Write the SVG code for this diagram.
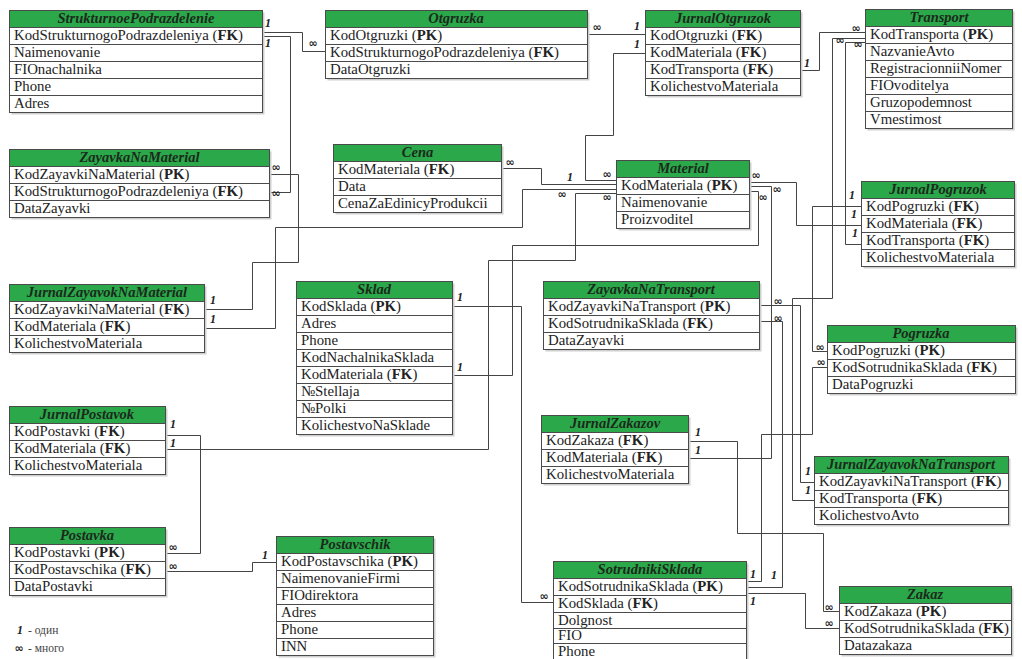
<svg xmlns="http://www.w3.org/2000/svg" width="1022" height="659" viewBox="0 0 1022 659">
<style>
.bg{fill:#fff}
.sh{fill:#cfcfcf}
.hd{fill:#2aa84a;stroke:#4a4a4a;stroke-width:1}
.rw{fill:#fff;stroke:#4a4a4a;stroke-width:1}
.tt{font-family:"Liberation Serif",serif;font-size:14.5px;font-style:italic;font-weight:bold;fill:#1c2a1c;text-anchor:middle}
.f{font-family:"Liberation Serif",serif;font-size:14.8px;fill:#222}
.b{font-weight:bold}
.cn{fill:none;stroke:#444;stroke-width:1}
.one{font-family:"Liberation Serif",serif;font-size:12px;font-style:italic;font-weight:bold;fill:#222;text-anchor:middle}
.many{font-family:"DejaVu Sans",sans-serif;font-size:11px;font-weight:bold;fill:#222;text-anchor:middle}
.lg{font-family:"Liberation Serif",serif;font-size:11.5px;fill:#444}
</style>
<rect class="bg" x="0" y="0" width="1022" height="659"/>

<g id="connectors">
<polyline class="cn" points="262.5,32.5 302.5,32.5 302.5,51.5 325.5,51.5"/>
<polyline class="cn" points="262.5,36.5 290.5,36.5 290.5,192.5 269.5,192.5"/>
<polyline class="cn" points="587.5,34.5 645.5,34.5"/>
<polyline class="cn" points="645.5,53.5 613.5,53.5 613.5,135.5 585.5,135.5 585.5,180.5 616.5,180.5"/>
<polyline class="cn" points="800.5,70.5 819.5,70.5 819.5,32.5 865.5,32.5"/>
<polyline class="cn" points="865.5,42.5 845.5,42.5 845.5,244.5 861.5,244.5"/>
<polyline class="cn" points="865.5,38.5 832.5,38.5 832.5,298.5 792.5,298.5 792.5,500.5 814.5,500.5"/>
<polyline class="cn" points="501.5,168.5 541.5,168.5 541.5,184.5 616.5,184.5"/>
<polyline class="cn" points="204.5,328.5 275.5,328.5 275.5,227.5 522.5,227.5 522.5,189.5 616.5,189.5"/>
<polyline class="cn" points="269.5,174.5 298.5,174.5 298.5,262.5 252.5,262.5 252.5,309.5 204.5,309.5"/>
<polyline class="cn" points="165.5,449.5 488.5,449.5 488.5,260.5 575.5,260.5 575.5,193.5 616.5,193.5"/>
<polyline class="cn" points="452.5,375.5 512.5,375.5 512.5,245.5 758.5,245.5 758.5,191.5 749.5,191.5"/>
<polyline class="cn" points="749.5,182.5 796.5,182.5 796.5,225.5 861.5,225.5"/>
<polyline class="cn" points="688.5,458.5 771.5,458.5 771.5,186.5 749.5,186.5"/>
<polyline class="cn" points="861.5,206.5 812.5,206.5 812.5,351.5 827.5,351.5"/>
<polyline class="cn" points="746.5,581.5 761.5,581.5 761.5,434.5 812.5,434.5 812.5,367.5 827.5,367.5"/>
<polyline class="cn" points="746.5,587.5 782.5,587.5 782.5,321.5 759.5,321.5"/>
<polyline class="cn" points="759.5,305.5 800.5,305.5 800.5,482.5 814.5,482.5"/>
<polyline class="cn" points="746.5,593.5 805.5,593.5 805.5,628.5 839.5,628.5"/>
<polyline class="cn" points="688.5,441.5 737.5,441.5 737.5,533.5 823.5,533.5 823.5,611.5 839.5,611.5"/>
<polyline class="cn" points="452.5,306.5 521.5,306.5 521.5,602.5 553.5,602.5"/>
<polyline class="cn" points="165.5,435.5 200.5,435.5 200.5,553.5 165.5,553.5"/>
<polyline class="cn" points="165.5,571.5 252.5,571.5 252.5,562.5 276.5,562.5"/>
</g>

<g id="cardinalities">
<text class="one" x="268" y="27">1</text>
<text class="one" x="268" y="47">1</text>
<text class="many" x="313" y="47">∞</text>
<text class="many" x="276" y="171">∞</text>
<text class="many" x="276" y="197">∞</text>
<text class="many" x="597" y="31">∞</text>
<text class="one" x="637" y="30">1</text>
<text class="one" x="637" y="48">1</text>
<text class="one" x="807" y="67">1</text>
<text class="many" x="856" y="32">∞</text>
<text class="many" x="840" y="44">∞</text>
<text class="many" x="858" y="48">∞</text>
<text class="many" x="510" y="166">∞</text>
<text class="one" x="570" y="181">1</text>
<text class="many" x="607" y="178">∞</text>
<text class="many" x="562" y="198">∞</text>
<text class="many" x="607" y="201">∞</text>
<text class="many" x="756" y="179">∞</text>
<text class="many" x="777" y="193">∞</text>
<text class="many" x="763" y="201">∞</text>
<text class="one" x="852" y="199">1</text>
<text class="one" x="854" y="218">1</text>
<text class="one" x="855" y="237">1</text>
<text class="one" x="213" y="304">1</text>
<text class="one" x="213" y="323">1</text>
<text class="one" x="460" y="301">1</text>
<text class="one" x="460" y="371">1</text>
<text class="many" x="778" y="305">∞</text>
<text class="many" x="778" y="322">∞</text>
<text class="many" x="820" y="351">∞</text>
<text class="many" x="821" y="366">∞</text>
<text class="one" x="173" y="428">1</text>
<text class="one" x="173" y="447">1</text>
<text class="many" x="173" y="551">∞</text>
<text class="many" x="173" y="570">∞</text>
<text class="one" x="265" y="559">1</text>
<text class="one" x="698" y="436">1</text>
<text class="one" x="698" y="454">1</text>
<text class="one" x="808" y="475">1</text>
<text class="one" x="808" y="494">1</text>
<text class="one" x="753" y="578">1</text>
<text class="one" x="774" y="579">1</text>
<text class="one" x="753" y="605">1</text>
<text class="many" x="544" y="600">∞</text>
<text class="many" x="829" y="611">∞</text>
<text class="many" x="829" y="627">∞</text>
</g>

<g id="StrukturnoePodrazdelenie">
<rect class="sh" x="11.5" y="12.5" width="253" height="102"/>
<rect class="hd" x="9.5" y="10.5" width="253" height="17"/>
<text class="tt" x="136" y="23">StrukturnoePodrazdelenie</text>
<rect class="rw" x="9.5" y="27.5" width="253" height="17"/>
<rect class="rw" x="9.5" y="44.5" width="253" height="17"/>
<rect class="rw" x="9.5" y="61.5" width="253" height="17"/>
<rect class="rw" x="9.5" y="78.5" width="253" height="17"/>
<rect class="rw" x="9.5" y="95.5" width="253" height="17"/>
<text class="f" x="14" y="40">KodStrukturnogoPodrazdeleniya (<tspan class="b">FK</tspan>)</text>
<text class="f" x="14" y="57">Naimenovanie</text>
<text class="f" x="14" y="74">FIOnachalnika</text>
<text class="f" x="14" y="91">Phone</text>
<text class="f" x="14" y="108">Adres</text>
</g>

<g id="Otgruzka">
<rect class="sh" x="327.5" y="12.5" width="262" height="68"/>
<rect class="hd" x="325.5" y="10.5" width="262" height="17"/>
<text class="tt" x="456" y="23">Otgruzka</text>
<rect class="rw" x="325.5" y="27.5" width="262" height="17"/>
<rect class="rw" x="325.5" y="44.5" width="262" height="17"/>
<rect class="rw" x="325.5" y="61.5" width="262" height="17"/>
<text class="f" x="330" y="40">KodOtgruzki (<tspan class="b">PK</tspan>)</text>
<text class="f" x="330" y="57">KodStrukturnogoPodrazdeleniya (<tspan class="b">FK</tspan>)</text>
<text class="f" x="330" y="74">DataOtgruzki</text>
</g>

<g id="JurnalOtgruzok">
<rect class="sh" x="647.5" y="12.5" width="155" height="85"/>
<rect class="hd" x="645.5" y="10.5" width="155" height="17"/>
<text class="tt" x="723" y="23">JurnalOtgruzok</text>
<rect class="rw" x="645.5" y="27.5" width="155" height="17"/>
<rect class="rw" x="645.5" y="44.5" width="155" height="17"/>
<rect class="rw" x="645.5" y="61.5" width="155" height="17"/>
<rect class="rw" x="645.5" y="78.5" width="155" height="17"/>
<text class="f" x="650" y="40">KodOtgruzki (<tspan class="b">FK</tspan>)</text>
<text class="f" x="650" y="57">KodMateriala (<tspan class="b">FK</tspan>)</text>
<text class="f" x="650" y="74">KodTransporta (<tspan class="b">FK</tspan>)</text>
<text class="f" x="650" y="91">KolichestvoMateriala</text>
</g>

<g id="Transport">
<rect class="sh" x="867.5" y="11.5" width="147" height="119"/>
<rect class="hd" x="865.5" y="9.5" width="147" height="17"/>
<text class="tt" x="939" y="22">Transport</text>
<rect class="rw" x="865.5" y="26.5" width="147" height="17"/>
<rect class="rw" x="865.5" y="43.5" width="147" height="17"/>
<rect class="rw" x="865.5" y="60.5" width="147" height="17"/>
<rect class="rw" x="865.5" y="77.5" width="147" height="17"/>
<rect class="rw" x="865.5" y="94.5" width="147" height="17"/>
<rect class="rw" x="865.5" y="111.5" width="147" height="17"/>
<text class="f" x="870" y="39">KodTransporta (<tspan class="b">PK</tspan>)</text>
<text class="f" x="870" y="56">NazvanieAvto</text>
<text class="f" x="870" y="73">RegistracionniiNomer</text>
<text class="f" x="870" y="90">FIOvoditelya</text>
<text class="f" x="870" y="107">Gruzopodemnost</text>
<text class="f" x="870" y="124">Vmestimost</text>
</g>

<g id="ZayavkaNaMaterial">
<rect class="sh" x="11.5" y="151.5" width="260" height="68"/>
<rect class="hd" x="9.5" y="149.5" width="260" height="17"/>
<text class="tt" x="139.5" y="162">ZayavkaNaMaterial</text>
<rect class="rw" x="9.5" y="166.5" width="260" height="17"/>
<rect class="rw" x="9.5" y="183.5" width="260" height="17"/>
<rect class="rw" x="9.5" y="200.5" width="260" height="17"/>
<text class="f" x="14" y="179">KodZayavkiNaMaterial (<tspan class="b">PK</tspan>)</text>
<text class="f" x="14" y="196">KodStrukturnogoPodrazdeleniya (<tspan class="b">FK</tspan>)</text>
<text class="f" x="14" y="213">DataZayavki</text>
</g>

<g id="Cena">
<rect class="sh" x="335.5" y="146.5" width="168" height="68"/>
<rect class="hd" x="333.5" y="144.5" width="168" height="17"/>
<text class="tt" x="417.5" y="157">Cena</text>
<rect class="rw" x="333.5" y="161.5" width="168" height="17"/>
<rect class="rw" x="333.5" y="178.5" width="168" height="17"/>
<rect class="rw" x="333.5" y="195.5" width="168" height="17"/>
<text class="f" x="338" y="174">KodMateriala (<tspan class="b">FK</tspan>)</text>
<text class="f" x="338" y="191">Data</text>
<text class="f" x="338" y="208">CenaZaEdinicyProdukcii</text>
</g>

<g id="Material">
<rect class="sh" x="618.5" y="162.5" width="133" height="68"/>
<rect class="hd" x="616.5" y="160.5" width="133" height="17"/>
<text class="tt" x="683" y="173">Material</text>
<rect class="rw" x="616.5" y="177.5" width="133" height="17"/>
<rect class="rw" x="616.5" y="194.5" width="133" height="17"/>
<rect class="rw" x="616.5" y="211.5" width="133" height="17"/>
<text class="f" x="621" y="190">KodMateriala (<tspan class="b">PK</tspan>)</text>
<text class="f" x="621" y="207">Naimenovanie</text>
<text class="f" x="621" y="224">Proizvoditel</text>
</g>

<g id="JurnalPogruzok">
<rect class="sh" x="863.5" y="183.5" width="153" height="85"/>
<rect class="hd" x="861.5" y="181.5" width="153" height="17"/>
<text class="tt" x="938" y="194">JurnalPogruzok</text>
<rect class="rw" x="861.5" y="198.5" width="153" height="17"/>
<rect class="rw" x="861.5" y="215.5" width="153" height="17"/>
<rect class="rw" x="861.5" y="232.5" width="153" height="17"/>
<rect class="rw" x="861.5" y="249.5" width="153" height="17"/>
<text class="f" x="866" y="211">KodPogruzki (<tspan class="b">FK</tspan>)</text>
<text class="f" x="866" y="228">KodMateriala (<tspan class="b">FK</tspan>)</text>
<text class="f" x="866" y="245">KodTransporta (<tspan class="b">FK</tspan>)</text>
<text class="f" x="866" y="262">KolichestvoMateriala</text>
</g>

<g id="JurnalZayavokNaMaterial">
<rect class="sh" x="11.5" y="286.5" width="195" height="68"/>
<rect class="hd" x="9.5" y="284.5" width="195" height="17"/>
<text class="tt" x="107" y="297">JurnalZayavokNaMaterial</text>
<rect class="rw" x="9.5" y="301.5" width="195" height="17"/>
<rect class="rw" x="9.5" y="318.5" width="195" height="17"/>
<rect class="rw" x="9.5" y="335.5" width="195" height="17"/>
<text class="f" x="14" y="314">KodZayavkiNaMaterial (<tspan class="b">FK</tspan>)</text>
<text class="f" x="14" y="331">KodMateriala (<tspan class="b">FK</tspan>)</text>
<text class="f" x="14" y="348">KolichestvoMateriala</text>
</g>

<g id="Sklad">
<rect class="sh" x="298.5" y="283.5" width="156" height="153"/>
<rect class="hd" x="296.5" y="281.5" width="156" height="17"/>
<text class="tt" x="374" y="294">Sklad</text>
<rect class="rw" x="296.5" y="298.5" width="156" height="17"/>
<rect class="rw" x="296.5" y="315.5" width="156" height="17"/>
<rect class="rw" x="296.5" y="332.5" width="156" height="17"/>
<rect class="rw" x="296.5" y="349.5" width="156" height="17"/>
<rect class="rw" x="296.5" y="366.5" width="156" height="17"/>
<rect class="rw" x="296.5" y="383.5" width="156" height="17"/>
<rect class="rw" x="296.5" y="400.5" width="156" height="17"/>
<rect class="rw" x="296.5" y="417.5" width="156" height="17"/>
<text class="f" x="301" y="311">KodSklada (<tspan class="b">PK</tspan>)</text>
<text class="f" x="301" y="328">Adres</text>
<text class="f" x="301" y="345">Phone</text>
<text class="f" x="301" y="362">KodNachalnikaSklada</text>
<text class="f" x="301" y="379">KodMateriala (<tspan class="b">FK</tspan>)</text>
<text class="f" x="301" y="396">№Stellaja</text>
<text class="f" x="301" y="413">№Polki</text>
<text class="f" x="301" y="430">KolichestvoNaSklade</text>
</g>

<g id="ZayavkaNaTransport">
<rect class="sh" x="545.5" y="283.5" width="216" height="68"/>
<rect class="hd" x="543.5" y="281.5" width="216" height="17"/>
<text class="tt" x="651" y="294">ZayavkaNaTransport</text>
<rect class="rw" x="543.5" y="298.5" width="216" height="17"/>
<rect class="rw" x="543.5" y="315.5" width="216" height="17"/>
<rect class="rw" x="543.5" y="332.5" width="216" height="17"/>
<text class="f" x="548" y="311">KodZayavkiNaTransport (<tspan class="b">PK</tspan>)</text>
<text class="f" x="548" y="328">KodSotrudnikaSklada (<tspan class="b">FK</tspan>)</text>
<text class="f" x="548" y="345">DataZayavki</text>
</g>

<g id="Pogruzka">
<rect class="sh" x="829.5" y="327.5" width="188" height="68"/>
<rect class="hd" x="827.5" y="325.5" width="188" height="17"/>
<text class="tt" x="921" y="338">Pogruzka</text>
<rect class="rw" x="827.5" y="342.5" width="188" height="17"/>
<rect class="rw" x="827.5" y="359.5" width="188" height="17"/>
<rect class="rw" x="827.5" y="376.5" width="188" height="17"/>
<text class="f" x="832" y="355">KodPogruzki (<tspan class="b">PK</tspan>)</text>
<text class="f" x="832" y="372">KodSotrudnikaSklada (<tspan class="b">FK</tspan>)</text>
<text class="f" x="832" y="389">DataPogruzki</text>
</g>

<g id="JurnalPostavok">
<rect class="sh" x="11.5" y="408.5" width="156" height="68"/>
<rect class="hd" x="9.5" y="406.5" width="156" height="17"/>
<text class="tt" x="87" y="419">JurnalPostavok</text>
<rect class="rw" x="9.5" y="423.5" width="156" height="17"/>
<rect class="rw" x="9.5" y="440.5" width="156" height="17"/>
<rect class="rw" x="9.5" y="457.5" width="156" height="17"/>
<text class="f" x="14" y="436">KodPostavki (<tspan class="b">FK</tspan>)</text>
<text class="f" x="14" y="453">KodMateriala (<tspan class="b">FK</tspan>)</text>
<text class="f" x="14" y="470">KolichestvoMateriala</text>
</g>

<g id="Postavka">
<rect class="sh" x="11.5" y="529.5" width="156" height="68"/>
<rect class="hd" x="9.5" y="527.5" width="156" height="17"/>
<text class="tt" x="87" y="540">Postavka</text>
<rect class="rw" x="9.5" y="544.5" width="156" height="17"/>
<rect class="rw" x="9.5" y="561.5" width="156" height="17"/>
<rect class="rw" x="9.5" y="578.5" width="156" height="17"/>
<text class="f" x="14" y="557">KodPostavki (<tspan class="b">PK</tspan>)</text>
<text class="f" x="14" y="574">KodPostavschika (<tspan class="b">FK</tspan>)</text>
<text class="f" x="14" y="591">DataPostavki</text>
</g>

<g id="Postavschik">
<rect class="sh" x="278.5" y="538.5" width="157" height="119"/>
<rect class="hd" x="276.5" y="536.5" width="157" height="17"/>
<text class="tt" x="355" y="549">Postavschik</text>
<rect class="rw" x="276.5" y="553.5" width="157" height="17"/>
<rect class="rw" x="276.5" y="570.5" width="157" height="17"/>
<rect class="rw" x="276.5" y="587.5" width="157" height="17"/>
<rect class="rw" x="276.5" y="604.5" width="157" height="17"/>
<rect class="rw" x="276.5" y="621.5" width="157" height="17"/>
<rect class="rw" x="276.5" y="638.5" width="157" height="17"/>
<text class="f" x="281" y="566">KodPostavschika (<tspan class="b">PK</tspan>)</text>
<text class="f" x="281" y="583">NaimenovanieFirmi</text>
<text class="f" x="281" y="600">FIOdirektora</text>
<text class="f" x="281" y="617">Adres</text>
<text class="f" x="281" y="634">Phone</text>
<text class="f" x="281" y="651">INN</text>
</g>

<g id="JurnalZakazov">
<rect class="sh" x="543.5" y="417.5" width="147" height="68"/>
<rect class="hd" x="541.5" y="415.5" width="147" height="17"/>
<text class="tt" x="615" y="428">JurnalZakazov</text>
<rect class="rw" x="541.5" y="432.5" width="147" height="17"/>
<rect class="rw" x="541.5" y="449.5" width="147" height="17"/>
<rect class="rw" x="541.5" y="466.5" width="147" height="17"/>
<text class="f" x="546" y="445">KodZakaza (<tspan class="b">FK</tspan>)</text>
<text class="f" x="546" y="462">KodMateriala (<tspan class="b">FK</tspan>)</text>
<text class="f" x="546" y="479">KolichestvoMateriala</text>
</g>

<g id="JurnalZayavokNaTransport">
<rect class="sh" x="816.5" y="458.5" width="194" height="68"/>
<rect class="hd" x="814.5" y="456.5" width="194" height="17"/>
<text class="tt" x="911" y="469">JurnalZayavokNaTransport</text>
<rect class="rw" x="814.5" y="473.5" width="194" height="17"/>
<rect class="rw" x="814.5" y="490.5" width="194" height="17"/>
<rect class="rw" x="814.5" y="507.5" width="194" height="17"/>
<text class="f" x="819" y="486">KodZayavkiNaTransport (<tspan class="b">FK</tspan>)</text>
<text class="f" x="819" y="503">KodTransporta (<tspan class="b">FK</tspan>)</text>
<text class="f" x="819" y="520">KolichestvoAvto</text>
</g>

<g id="SotrudnikiSklada">
<rect class="sh" x="555.5" y="563.5" width="193" height="102"/>
<rect class="hd" x="553.5" y="561.5" width="193" height="17"/>
<text class="tt" x="650" y="574">SotrudnikiSklada</text>
<rect class="rw" x="553.5" y="578.5" width="193" height="17"/>
<rect class="rw" x="553.5" y="595.5" width="193" height="17"/>
<rect class="rw" x="553.5" y="612.5" width="193" height="16"/>
<rect class="rw" x="553.5" y="628.5" width="193" height="15"/>
<rect class="rw" x="553.5" y="643.5" width="193" height="17"/>
<text class="f" x="558" y="591">KodSotrudnikaSklada (<tspan class="b">PK</tspan>)</text>
<text class="f" x="558" y="608">KodSklada (<tspan class="b">FK</tspan>)</text>
<text class="f" x="558" y="624.5">Dolgnost</text>
<text class="f" x="558" y="640">FIO</text>
<text class="f" x="558" y="655.5">Phone</text>
</g>

<g id="Zakaz">
<rect class="sh" x="841.5" y="588.5" width="172" height="68"/>
<rect class="hd" x="839.5" y="586.5" width="172" height="17"/>
<text class="tt" x="925" y="599">Zakaz</text>
<rect class="rw" x="839.5" y="603.5" width="172" height="17"/>
<rect class="rw" x="839.5" y="620.5" width="172" height="17"/>
<rect class="rw" x="839.5" y="637.5" width="172" height="17"/>
<text class="f" x="844" y="616">KodZakaza (<tspan class="b">PK</tspan>)</text>
<text class="f" x="844" y="633">KodSotrudnikaSklada (<tspan class="b">FK</tspan>)</text>
<text class="f" x="844" y="650">Datazakaza</text>
</g>

<g id="legend">
<text class="one" x="20" y="634">1</text>
<text class="lg" x="28" y="634">- один</text>
<text class="many" x="19" y="652">∞</text>
<text class="lg" x="28" y="652">- много</text>
</g>
</svg>
